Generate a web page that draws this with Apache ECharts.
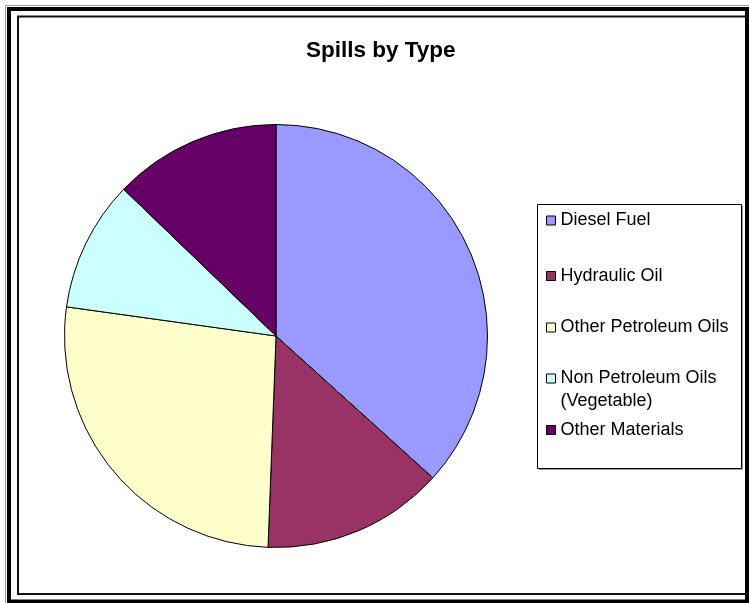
<!DOCTYPE html>
<html>
<head>
<meta charset="utf-8">
<script src="https://cdn.jsdelivr.net/npm/echarts@6/dist/echarts.min.js"></script>
<style>
html,body{margin:0;padding:0;background:#fff;}
#c{width:749px;height:603px;}
</style>
</head>
<body>
<div id="c"></div>
<script>
// Data (percent of spills)
const categories = ['Diesel Fuel', 'Hydraulic Oil', 'Other Petroleum Oils', 'Non Petroleum Oils (Vegetable)', 'Other Materials'];
const values = [36.7, 13.9, 26.6, 10.0, 12.8];
const colors = ['#9999FF', '#993366', '#FFFFCC', '#CCFFFF', '#660066'];
const titleText = 'Spills by Type';

const FONT = '"Liberation Sans", Arial, sans-serif';
const legendCenters = [220.5, 276, 327.5, 378.5, 430];
const LFS = 18;

const legends = categories.map(function (name, i) {
  const multi = name.indexOf(' (') >= 0;
  const lh = multi ? 23 : 20;
  const lg = {
    orient: 'vertical',
    left: 546,
    top: multi ? legendCenters[i] - lh * 1.5 : legendCenters[i] - lh / 2,
    padding: 0,
    itemWidth: 9,
    itemHeight: 9,
    icon: 'rect',
    selectedMode: false,
    data: [name],
    itemStyle: { borderColor: '#000', borderWidth: 1 },
    textStyle: { fontFamily: FONT, fontSize: LFS, color: '#000', lineHeight: lh }
  };
  if (multi) {
    const parts = name.split(' (');
    lg.formatter = function () {
      return '{a| }\n{a|' + parts[0] + '}\n{a|(' + parts[1] + '}';
    };
    lg.textStyle.rich = { a: { fontFamily: FONT, fontSize: LFS, color: '#000', lineHeight: lh } };
  }
  return lg;
});

const chart = echarts.init(document.getElementById('c'), null, { renderer: 'canvas' });
chart.setOption({
  animation: false,
  backgroundColor: '#fff',
  title: {
    text: titleText,
    left: 306,
    top: 41,
    padding: 0,
    textStyle: { fontFamily: FONT, fontSize: 22.5, fontWeight: 'bold', color: '#000', lineHeight: 20 }
  },
  legend: legends,
  graphic: [
    { type: 'rect', silent: true, z: 100, shape: { x: 5.5, y: 5.5, width: 745, height: 600 }, style: { fill: 'none', stroke: '#999', lineWidth: 1 } },
    { type: 'rect', silent: true, z: 100, shape: { x: 18, y: 16.5, width: 729, height: 577.5 }, style: { fill: 'none', stroke: '#111', lineWidth: 2 } },
    { type: 'rect', silent: true, z: 101, shape: { x: 9, y: 9, width: 738, height: 592.5 }, style: { fill: 'none', stroke: '#000', lineWidth: 4 } },
    { type: 'rect', silent: true, z: 1, shape: { x: 537.5, y: 204.5, width: 204, height: 264 }, style: { fill: '#fff', stroke: '#000', lineWidth: 1 } },
    { type: 'polyline', silent: true, z: 1, shape: { points: [[742.5, 206], [742.5, 469.5], [539, 469.5]] }, style: { fill: 'none', stroke: '#999', lineWidth: 1 } }
  ],
  series: [{
    type: 'pie',
    center: [276, 336],
    radius: 211.5,
    startAngle: 90,
    clockwise: true,
    label: { show: false },
    labelLine: { show: false },
    emphasis: { disabled: true },
    itemStyle: { borderColor: '#000', borderWidth: 1 },
    data: categories.map(function (n, i) {
      return { name: n, value: values[i], itemStyle: { color: colors[i] } };
    })
  }]
});
</script>
</body>
</html>
